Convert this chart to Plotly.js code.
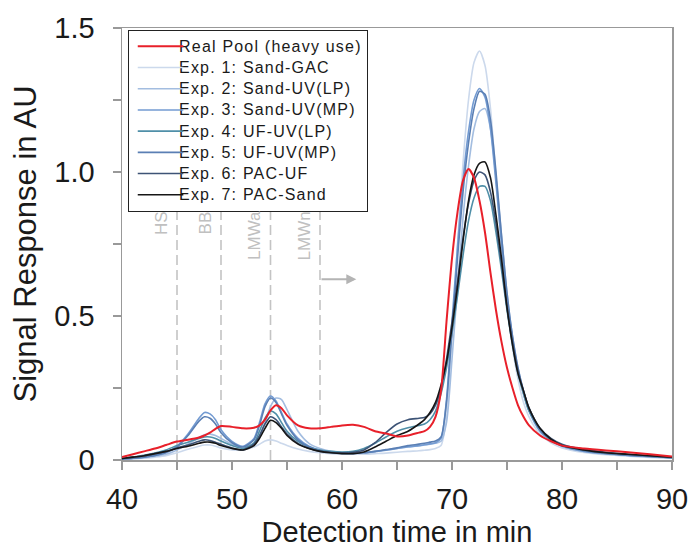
<!DOCTYPE html>
<html>
<head>
<meta charset="utf-8">
<script src="https://cdn.plot.ly/plotly-3.0.1.min.js"></script>
<style>
html,body{margin:0;padding:0;background:#fff;}
#chart{width:693px;height:548px;}
.legendtext{font-size:16px !important;letter-spacing:1.2px;}
#chart .legendlines path{transform:translate(3px,0) scale(1.14,1);}
</style>
</head>
<body>
<div id="chart"></div>
<script>
// Detection time (min)
const time = [40,41,42,43,44,45,46,47,47.5,48,48.5,49,50,51,52,52.5,53,53.5,54,54.5,55,56,57,58,59,60,61,62,63,64,65,66,67,67.5,68,68.5,69,69.5,70,70.5,71,71.5,72,72.5,73,73.5,74,74.5,75,75.5,76,76.5,77,78,79,80,82,84,86,88,90];

const realPool = [0.01,0.02,0.03,0.04,0.052,0.064,0.07,0.078,0.085,0.095,0.108,0.118,0.115,0.11,0.112,0.12,0.14,0.172,0.19,0.18,0.155,0.12,0.11,0.11,0.115,0.12,0.122,0.115,0.1,0.092,0.082,0.085,0.095,0.1,0.115,0.15,0.24,0.48,0.7,0.86,0.97,1.01,0.98,0.9,0.79,0.65,0.52,0.41,0.32,0.25,0.19,0.15,0.12,0.085,0.065,0.05,0.04,0.033,0.027,0.02,0.012];

const exp1 = [0.002,0.004,0.006,0.01,0.015,0.025,0.037,0.048,0.052,0.052,0.048,0.042,0.035,0.035,0.045,0.055,0.066,0.07,0.066,0.058,0.05,0.038,0.03,0.025,0.022,0.02,0.02,0.02,0.022,0.024,0.027,0.03,0.032,0.034,0.036,0.04,0.05,0.15,0.42,0.75,1.03,1.25,1.38,1.42,1.37,1.22,0.98,0.74,0.54,0.39,0.28,0.2,0.15,0.09,0.06,0.042,0.026,0.018,0.013,0.009,0.006];

const exp2 = [0.003,0.005,0.008,0.013,0.02,0.035,0.055,0.078,0.088,0.09,0.085,0.075,0.055,0.045,0.055,0.08,0.13,0.185,0.215,0.21,0.175,0.1,0.058,0.04,0.03,0.026,0.025,0.026,0.03,0.035,0.04,0.045,0.05,0.052,0.055,0.058,0.065,0.13,0.35,0.6,0.84,1.02,1.15,1.21,1.22,1.15,0.98,0.78,0.58,0.43,0.32,0.24,0.175,0.1,0.068,0.048,0.03,0.021,0.016,0.011,0.007];

const exp3 = [0.003,0.006,0.01,0.016,0.026,0.048,0.09,0.145,0.165,0.16,0.14,0.105,0.065,0.048,0.075,0.13,0.195,0.222,0.205,0.165,0.125,0.075,0.048,0.034,0.027,0.024,0.023,0.025,0.029,0.034,0.04,0.046,0.05,0.053,0.056,0.06,0.075,0.21,0.48,0.74,0.97,1.14,1.25,1.29,1.26,1.15,0.96,0.75,0.56,0.42,0.31,0.23,0.17,0.1,0.068,0.048,0.03,0.022,0.016,0.012,0.008];

const exp4 = [0.005,0.01,0.016,0.024,0.035,0.05,0.062,0.075,0.08,0.08,0.075,0.066,0.05,0.04,0.06,0.1,0.145,0.17,0.16,0.13,0.1,0.065,0.045,0.035,0.03,0.028,0.03,0.04,0.058,0.08,0.1,0.112,0.12,0.125,0.14,0.17,0.23,0.32,0.44,0.57,0.71,0.83,0.91,0.95,0.95,0.9,0.79,0.66,0.52,0.4,0.3,0.23,0.17,0.105,0.07,0.05,0.033,0.024,0.018,0.013,0.008];

const exp5 = [0.003,0.006,0.01,0.016,0.026,0.045,0.085,0.135,0.15,0.145,0.125,0.095,0.06,0.045,0.07,0.12,0.185,0.215,0.2,0.16,0.12,0.07,0.045,0.032,0.026,0.023,0.023,0.025,0.03,0.036,0.042,0.05,0.055,0.058,0.062,0.066,0.08,0.2,0.45,0.7,0.93,1.1,1.22,1.28,1.27,1.18,1.0,0.78,0.58,0.43,0.32,0.24,0.18,0.105,0.07,0.05,0.032,0.023,0.017,0.012,0.008];

const exp6 = [0.005,0.01,0.015,0.022,0.03,0.042,0.052,0.065,0.07,0.068,0.062,0.055,0.042,0.035,0.055,0.085,0.125,0.15,0.14,0.115,0.09,0.058,0.04,0.03,0.026,0.025,0.027,0.035,0.06,0.095,0.125,0.14,0.145,0.148,0.16,0.19,0.25,0.35,0.48,0.62,0.77,0.89,0.97,1.0,0.99,0.93,0.82,0.68,0.53,0.41,0.31,0.24,0.18,0.11,0.075,0.055,0.037,0.027,0.02,0.015,0.01];

const exp7 = [0.005,0.01,0.015,0.022,0.03,0.04,0.048,0.058,0.062,0.062,0.058,0.05,0.04,0.035,0.05,0.075,0.11,0.138,0.13,0.11,0.085,0.055,0.04,0.03,0.025,0.022,0.022,0.028,0.045,0.065,0.085,0.1,0.125,0.14,0.165,0.2,0.26,0.34,0.46,0.6,0.76,0.9,0.99,1.03,1.035,0.98,0.85,0.7,0.53,0.4,0.3,0.24,0.18,0.11,0.072,0.05,0.035,0.025,0.02,0.015,0.01];

const seriesNames = ["Real Pool (heavy use)","Exp. 1: Sand-GAC","Exp. 2: Sand-UV(LP)","Exp. 3: Sand-UV(MP)","Exp. 4: UF-UV(LP)","Exp. 5: UF-UV(MP)","Exp. 6: PAC-UF","Exp. 7: PAC-Sand"];
const seriesColors = ["#e8202a","#ccd9ec","#a3bde0","#739bd2","#4f8fa8","#5a7fb4","#3d5376","#161616"];

const fractionPos = [45,49,53.5,58];
const fractionLabels = ["HS","BB","LMWa","LMWn"];

const xTicks = [40,50,60,70,80,90];
const yTicks = [0,0.5,1.0,1.5];
const yTickText = ["0","0.5","1.0","1.5"];

const expData = [exp1,exp2,exp3,exp4,exp5,exp6,exp7];
const traces = [];
expData.forEach((d,i)=>{
  traces.push({x:time,y:d,type:'scatter',mode:'lines',name:seriesNames[i+1],
    line:{color:seriesColors[i+1],width:1.6,shape:'spline',smoothing:0.7},legendrank:i+2});
});
traces.push({x:time,y:realPool,type:'scatter',mode:'lines',name:seriesNames[0],
  line:{color:seriesColors[0],width:2,shape:'spline',smoothing:0.7},legendrank:1});

const shapes = fractionPos.map(p=>({type:'line',xref:'x',yref:'y',x0:p,x1:p,y0:0,y1:1.5,
  line:{color:'#c4c4c4',width:1.6,dash:'10px,5px'},layer:'below'}));

const annotations = fractionPos.map((p,i)=>({x:p,y:0.87,xref:'x',yref:'y',text:fractionLabels[i],
  showarrow:false,textangle:-90,xanchor:'right',yanchor:'top',xshift:-4,
  font:{family:'Liberation Sans, Arial, sans-serif',size:17,color:'#c0c0c0'}}));
annotations.push({x:61.3,y:0.628,ax:58,ay:0.628,xref:'x',yref:'y',axref:'x',ayref:'y',text:'',
  showarrow:true,arrowhead:2,arrowsize:1,arrowwidth:2,arrowcolor:'#b4b4b4'});

const layout = {
  width:693,height:548,
  margin:{l:122,r:21,t:28,b:88},
  paper_bgcolor:'#fff',plot_bgcolor:'#fff',
  font:{family:'Liberation Sans, Arial, sans-serif',color:'#1a1a1a'},
  showlegend:true,
  legend:{x:0.011,y:0.996,xanchor:'left',yanchor:'top',bgcolor:'#fff',bordercolor:'#222',borderwidth:1,
    itemwidth:40,font:{family:'Liberation Sans, Arial, sans-serif',size:14,color:'#1a1a1a'},tracegroupgap:0},
  xaxis:{range:[40,90],tickmode:'array',tickvals:xTicks,ticks:'outside',ticklen:8,tickcolor:'#999',tickwidth:1.5,
    minor:{dtick:5,ticks:'outside',ticklen:8,tickcolor:'#999',tickwidth:1.5},
    showline:true,linecolor:'#999',linewidth:1.5,mirror:true,showgrid:false,zeroline:false,
    ticklabelstandoff:5,
    tickfont:{size:29},title:{text:'Detection time in min',font:{size:29},standoff:10}},
  yaxis:{range:[0,1.5],tickmode:'array',tickvals:yTicks,ticktext:yTickText,ticks:'outside',ticklen:8,tickcolor:'#999',tickwidth:1.5,
    minor:{dtick:0.25,ticks:'outside',ticklen:8,tickcolor:'#999',tickwidth:1.5},
    showline:true,linecolor:'#999',linewidth:1.5,mirror:true,showgrid:false,zeroline:false,
    ticklabelstandoff:12,
    tickfont:{size:29},title:{text:'Signal Response in AU',font:{size:31},standoff:8}},
  shapes:shapes,annotations:annotations
};
Plotly.newPlot('chart',traces,layout,{displayModeBar:false,staticPlot:true});
</script>
</body>
</html>
